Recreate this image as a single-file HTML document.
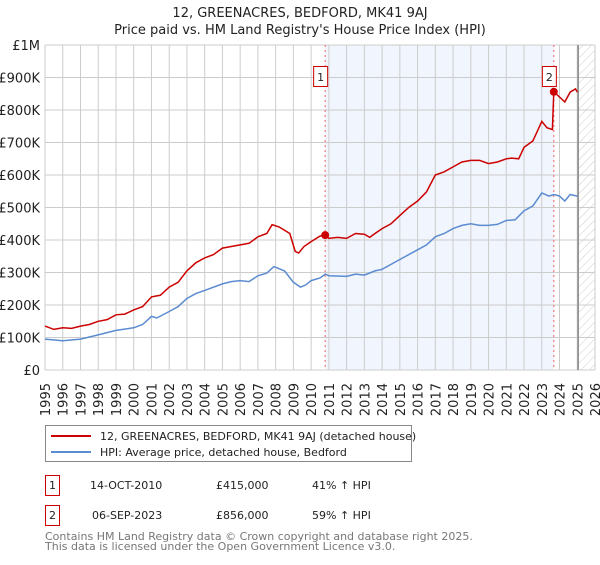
<!DOCTYPE html>
<html><head><meta charset="utf-8"><style>
body{margin:0;background:#fff;font-family:"Liberation Sans","DejaVu Sans",sans-serif;}
svg text{font-family:"DejaVu Sans","Liberation Sans",sans-serif;}
</style></head><body>
<svg id="chart" width="600" height="560" xmlns="http://www.w3.org/2000/svg">
<defs><pattern id="hatch" width="6" height="6" patternUnits="userSpaceOnUse" patternTransform="rotate(45)"><line x1="0" y1="0" x2="0" y2="6" stroke="#ccc" stroke-width="1"/></pattern></defs>
<text x="300" y="17" text-anchor="middle" font-size="13" fill="#222">12, GREENACRES, BEDFORD, MK41 9AJ</text>
<text x="300" y="34" text-anchor="middle" font-size="13" fill="#222">Price paid vs. HM Land Registry's House Price Index (HPI)</text>
<g id="plot"></g>
<g>
<rect x="45.5" y="425.5" width="366" height="36" fill="#fff" stroke="#888"/>
<line x1="51" y1="436" x2="91" y2="436" stroke="#cc0000" stroke-width="2"/>
<text x="100" y="440" font-size="11" fill="#222">12, GREENACRES, BEDFORD, MK41 9AJ (detached house)</text>
<line x1="51" y1="452" x2="91" y2="452" stroke="#5b8bd0" stroke-width="2"/>
<text x="100" y="456" font-size="11" fill="#222">HPI: Average price, detached house, Bedford</text>
</g>
<g font-size="11" fill="#222">
<rect x="45.5" y="475.5" width="14" height="20" fill="#fff" stroke="#cc0000"/>
<text x="52.5" y="489" text-anchor="middle">1</text>
<text x="90" y="489">14-OCT-2010</text><text x="216" y="489">£415,000</text><text x="312" y="489">41% ↑ HPI</text>
<rect x="45.5" y="505.5" width="14" height="20" fill="#fff" stroke="#cc0000"/>
<text x="52.5" y="519" text-anchor="middle">2</text>
<text x="92" y="519">06-SEP-2023</text><text x="216" y="519">£856,000</text><text x="312" y="519">59% ↑ HPI</text>
</g>
<text x="45" y="540" font-size="11" fill="#777">Contains HM Land Registry data © Crown copyright and database right 2025.</text>
<text x="45" y="550" font-size="11" fill="#777">This data is licensed under the Open Government Licence v3.0.</text>
</svg>
<script>
const yTicks=[0,100000,200000,300000,400000,500000,600000,700000,800000,900000,1000000];
const yTickLabels=["£0","£100K","£200K","£300K","£400K","£500K","£600K","£700K","£800K","£900K","£1M"];
const xYears=[1995,1996,1997,1998,1999,2000,2001,2002,2003,2004,2005,2006,2007,2008,2009,2010,2011,2012,2013,2014,2015,2016,2017,2018,2019,2020,2021,2022,2023,2024,2025,2026];
const priceT=[1995,1995.5,1996,1996.5,1997,1997.5,1998,1998.5,1999,1999.5,2000,2000.5,2001,2001.3,2001.5,2002,2002.5,2003,2003.5,2004,2004.5,2005,2005.5,2006,2006.5,2007,2007.5,2007.8,2008.2,2008.5,2008.8,2009.1,2009.3,2009.6,2010,2010.5,2010.79,2011,2011.5,2012,2012.5,2013,2013.3,2013.6,2014,2014.5,2015,2015.5,2016,2016.5,2017,2017.5,2018,2018.5,2019,2019.5,2020,2020.5,2021,2021.3,2021.7,2022,2022.5,2023,2023.3,2023.6,2023.68,2024,2024.3,2024.6,2024.9,2025];
const priceV=[135,125,130,128,135,140,150,155,170,172,185,195,225,228,230,255,270,305,330,345,355,375,380,385,390,410,420,447,440,430,420,365,360,380,395,412,415,405,408,405,420,418,408,420,435,450,475,500,520,548,600,610,625,640,645,645,635,640,650,652,650,685,705,765,745,740,856,840,825,855,865,855];
const hpiT=[1995,1996,1997,1998,1999,2000,2000.5,2001,2001.3,2002,2002.5,2003,2003.5,2004,2005,2005.5,2006,2006.5,2007,2007.5,2007.9,2008.5,2009,2009.4,2009.7,2010,2010.5,2010.8,2011,2012,2012.5,2013,2013.6,2014,2014.5,2015,2016,2016.5,2017,2017.5,2018,2018.5,2019,2019.5,2020,2020.5,2021,2021.5,2022,2022.5,2023,2023.4,2023.7,2024,2024.3,2024.6,2025];
const hpiV=[95,90,95,108,122,130,140,165,160,180,195,220,235,245,265,272,275,272,290,298,318,305,270,255,262,275,283,295,290,288,295,292,305,310,325,340,370,385,410,420,435,445,450,445,445,448,460,462,490,505,545,535,540,535,520,540,535];
const sales=[{t:2010.79,v:415000,label:"1"},{t:2023.68,v:856000,label:"2"}];
const X0=45,X1=595,Y0=370,Y1=45;
const x=t=>X0+(t-1995)/31*(X1-X0);
const y=v=>Y0-v/1000000*(Y0-Y1);
const NS="http://www.w3.org/2000/svg";
const g=document.getElementById('plot');
function mk(tag,attrs,parent){const e=document.createElementNS(NS,tag);for(const k in attrs)e.setAttribute(k,attrs[k]);(parent||g).appendChild(e);return e;}
let e;
e=mk('rect',{x:x(sales[0].t),y:Y1,width:x(sales[1].t)-x(sales[0].t),height:Y0-Y1,fill:'#eef3fd',opacity:0.8});


e=mk('rect',{x:x(2025.05),y:Y1,width:X1-x(2025.05),height:Y0-Y1,fill:'url(#hatch)'});


yTicks.forEach((v,i)=>{
 e=mk('line',{x1:X0,x2:X1,y1:y(v),y2:y(v),stroke:'#ccc','stroke-width':1});
 
 
 e=mk('text',{x:40,y:y(v)+5,'text-anchor':'end','font-size':13,fill:'#222'});
 e.textContent=yTickLabels[i];
 
 
});
xYears.forEach(yr=>{
 e=mk('line',{x1:x(yr),x2:x(yr),y1:Y1,y2:Y0,stroke:'#ccc','stroke-width':1});
 
 
 e=mk('text',{transform:`translate(${x(yr)+5},${Y0+13}) rotate(-90)`,'text-anchor':'end','font-size':13,fill:'#222'});
 e.textContent=String(yr);
 
 
});
e=mk('line',{x1:x(2025.05),x2:x(2025.05),y1:Y1,y2:Y0,stroke:'#888','stroke-width':1.5});


sales.forEach(s=>{
 e=mk('line',{x1:x(s.t),x2:x(s.t),y1:Y1,y2:Y0,stroke:'#f06060','stroke-width':1,'stroke-dasharray':'2,3'});
 
 
});
function path(T,V,col,name){
 const d=T.map((t,i)=>(i?'L':'M')+x(t).toFixed(1)+','+y(V[i]*1000).toFixed(1)).join('');
 e=mk('path',{d:d,fill:'none',stroke:col,'stroke-width':1.5});
 
 
}
path(hpiT,hpiV,'#5b8bd0','hpi-line');
path(priceT,priceV,'#cc0000','price-paid-line');
sales.forEach(s=>{
 e=mk('circle',{cx:x(s.t),cy:y(s.v),r:4,fill:'#cc0000'});
 
 
 e=mk('rect',{x:x(s.t)-11.5,y:66.5,width:14,height:20,fill:'#fff',stroke:'#cc0000'});
 
 
 e=mk('text',{x:x(s.t)-4.5,y:81,'text-anchor':'middle','font-size':11,fill:'#222'});
 e.textContent=s.label;
 
 
});
</script>
</body></html>
